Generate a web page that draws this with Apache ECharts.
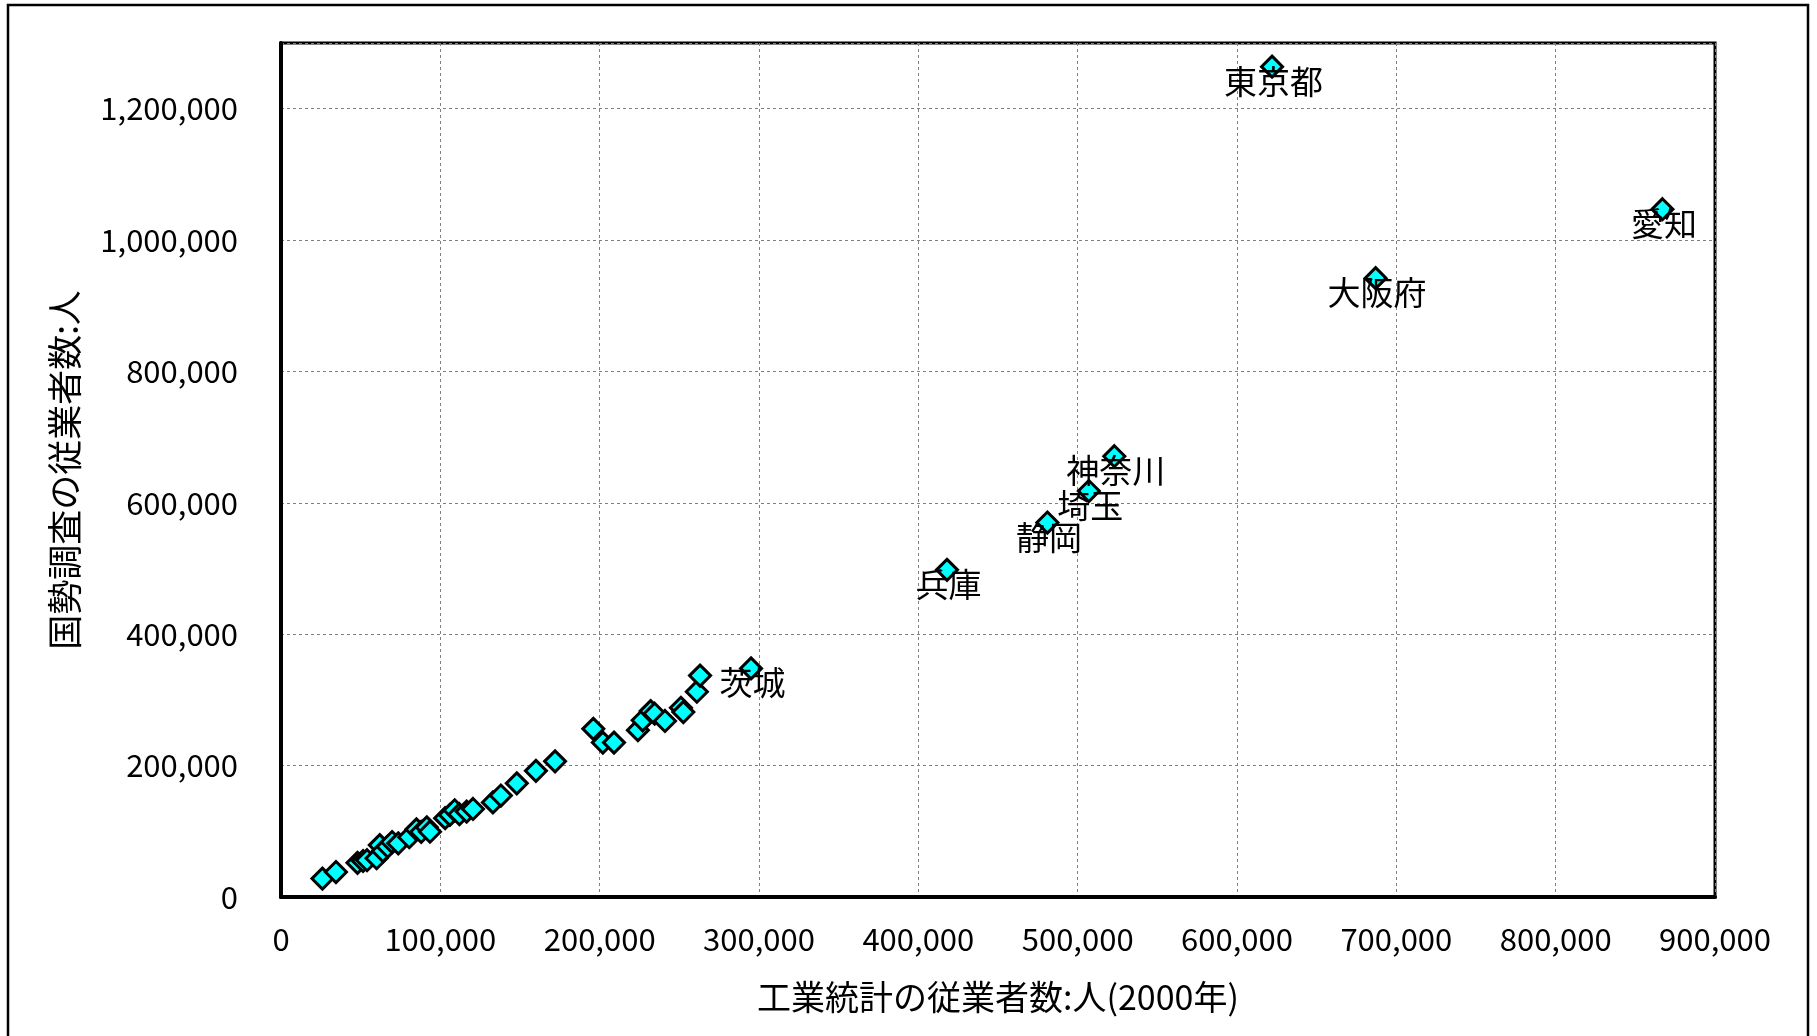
<!DOCTYPE html>
<html>
<head>
<meta charset="utf-8">
<script src="https://cdn.jsdelivr.net/npm/echarts@6/dist/echarts.min.js"></script>
<style>
html,body{margin:0;padding:0;background:#fff;}
#chart{width:1817px;height:1036px;}
</style>
</head>
<body>
<div id="chart"></div>
<script>
// Labeled prefectures
const labeledNames = ['茨城', '兵庫', '静岡', '埼玉', '神奈川', '大阪府', '東京都', '愛知'];
const labeledX = [295000, 418000, 481000, 507000, 523000, 687000, 622000, 867000];
const labeledY = [348000, 498000, 570000, 618000, 671000, 942000, 1264000, 1047000];

// Other prefectures (unlabeled)
const otherX = [26000, 34500, 48000, 51500, 54000, 60000, 62000, 64000, 67000, 69700,
  73600, 80500, 85000, 88000, 91500, 93500, 103000, 106000, 109000, 112000,
  116500, 120500, 133000, 138000, 148000, 160000, 172000, 196000, 202000, 209000,
  224000, 227000, 232000, 234500, 241000, 251000, 252500, 261000, 263000];
const otherY = [28000, 38000, 52000, 54800, 56000, 59000, 79000, 70000, 76500, 83700,
  81700, 91000, 103000, 99000, 106000, 99400, 120000, 125000, 132000, 126000,
  130000, 134000, 144000, 154500, 173000, 192000, 206500, 256000, 235000, 235000,
  254000, 269000, 283000, 279000, 268000, 288000, 281500, 312500, 337000];

// Axis settings
const xMin = 0, xMax = 900000, xStep = 100000;
const yMin = 0, yMax = 1300000, yStep = 200000;
const xAxisTitle = '工業統計の従業者数:人(2000年)';
const yAxisTitle = '国勢調査の従業者数:人';

const FONT = '"Noto Sans CJK JP", "Noto Sans", sans-serif';
const fmt = v => String(v).replace(/\B(?=(\d{3})+(?!\d))/g, ',');

const otherData = otherX.map((x, i) => ({ value: [x, otherY[i]], name: '' }));
const labeledData = labeledX.map((x, i) => ({ value: [x, labeledY[i]], name: labeledNames[i] }));

const SYM = 21;
const chart = echarts.init(document.getElementById('chart'), null, { renderer: 'canvas' });
chart.setOption({
  animation: false,
  backgroundColor: '#ffffff',
  graphic: [{
    type: 'rect',
    shape: { x: 8, y: 5, width: 1800, height: 1100 },
    style: { fill: 'none', stroke: '#000', lineWidth: 2.5 },
    silent: true, z: 100
  }],
  grid: {
    left: 281, top: 43, right: 1817 - 1715, bottom: 1036 - 897,
    show: true, borderColor: '#000', borderWidth: 3, backgroundColor: 'transparent'
  },
  xAxis: {
    type: 'value', min: xMin, max: xMax, interval: xStep,
    name: xAxisTitle, nameLocation: 'middle', nameGap: 83,
    nameTextStyle: { fontFamily: FONT, fontSize: 34, color: '#000' },
    axisLine: { show: true, onZero: false, lineStyle: { color: '#000', width: 4 } },
    axisTick: { show: false },
    axisLabel: { margin: 27, fontFamily: FONT, fontSize: 31, color: '#000', formatter: fmt },
    splitLine: { show: true, lineStyle: { color: '#808080', width: 1, type: [3, 3] } }
  },
  yAxis: {
    type: 'value', min: yMin, max: yMax, interval: yStep,
    name: yAxisTitle, nameLocation: 'middle', nameGap: 199, nameRotate: 90,
    nameTextStyle: { fontFamily: FONT, fontSize: 35, color: '#000' },
    axisLine: { show: true, onZero: false, lineStyle: { color: '#000', width: 4 } },
    axisTick: { show: false },
    axisLabel: { margin: 43, fontFamily: FONT, fontSize: 31, color: '#000', formatter: fmt, showMaxLabel: false },
    splitLine: { show: true, lineStyle: { color: '#808080', width: 1, type: [3, 3] } }
  },
  series: [{
    type: 'scatter',
    data: otherData,
    symbol: 'diamond', symbolSize: SYM,
    itemStyle: { color: '#00FFFF', borderColor: '#000', borderWidth: 3, opacity: 1 }
  }, {
    type: 'scatter',
    data: labeledData,
    symbol: 'diamond', symbolSize: SYM,
    itemStyle: { color: '#00FFFF', borderColor: '#000', borderWidth: 3, opacity: 1 },
    label: {
      show: true,
      position: [SYM / 2 + 3, SYM / 2 + 16],
      align: 'center', verticalAlign: 'middle',
      formatter: p => p.name,
      fontFamily: FONT, fontSize: 33, color: '#000'
    },
    labelLayout: { hideOverlap: false }
  }]
});
</script>
</body>
</html>
